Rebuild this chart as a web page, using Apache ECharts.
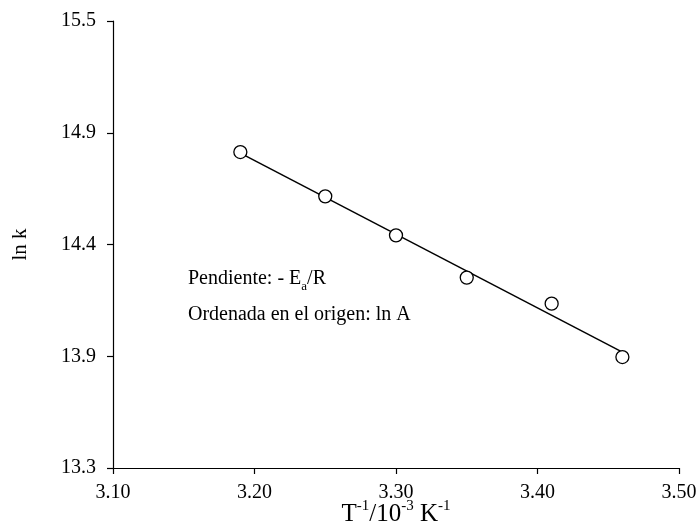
<!DOCTYPE html>
<html>
<head>
<meta charset="utf-8">
<script src="https://cdn.jsdelivr.net/npm/echarts@6/dist/echarts.min.js"></script>
<style>
html,body{margin:0;padding:0;background:#fff;}
#chart{width:699px;height:531px;}
</style>
</head>
<body>
<div id="chart"></div>
<script>
// Data
const invT = [3.19, 3.25, 3.30, 3.35, 3.41, 3.46];
const lnK = [14.855, 14.637, 14.445, 14.237, 14.109, 13.846];
const fitX = [3.19, 3.46];
const fitY = [14.85, 13.87];
const xTicks = [3.10, 3.20, 3.30, 3.40, 3.50];
const xTickLabels = ['3.10', '3.20', '3.30', '3.40', '3.50'];
const yTicks = [13.3, 13.85, 14.4, 14.95, 15.5];
const yTickLabels = ['13.3', '13.9', '14.4', '14.9', '15.5'];
const note1 = ['Pendiente: - E', 'a', '/R'];
const note2 = 'Ordenada en el origen: ln A';

const FONT = '"Liberation Serif", "Times New Roman", serif';
const chart = echarts.init(document.getElementById('chart'), null, {renderer: 'canvas'});

function pick(ticks, labels, v) {
  const i = ticks.findIndex(t => Math.abs(t - v) < 1e-6);
  return i >= 0 ? labels[i] : '';
}

const option = {
  backgroundColor: '#fff',
  animation: false,
  grid: {left: 113, right: 20, top: 21, bottom: 63, containLabel: false, outerBoundsMode: 'none'},
  xAxis: {
    type: 'value',
    min: 3.1, max: 3.5,
    name: '{m|T}{s|-1}{m|/10}{s|-3}{m| K}{s|-1}',
    nameLocation: 'middle',
    nameGap: 31,
    nameMoveOverlap: false,
    nameTextStyle: {
      rich: {
        m: {fontFamily: FONT, fontSize: 25, color: '#000', lineHeight: 28, verticalAlign: 'bottom'},
        s: {fontFamily: FONT, fontSize: 15, color: '#000', lineHeight: 15, verticalAlign: 'top'}
      }
    },
    axisLine: {lineStyle: {color: '#000', width: 1.2}},
    axisTick: {show: true, inside: false, length: 6, customValues: xTicks, lineStyle: {color: '#000', width: 1.2}},
    axisLabel: {
      customValues: xTicks,
      margin: 15,
      fontFamily: FONT, fontSize: 20, color: '#000',
      formatter: v => pick(xTicks, xTickLabels, v)
    },
    splitLine: {show: false}
  },
  yAxis: {
    type: 'value',
    min: 13.3, max: 15.5,
    name: 'ln k',
    nameLocation: 'middle',
    nameGap: 82,
    nameRotate: 90,
    nameMoveOverlap: false,
    nameTextStyle: {fontFamily: FONT, fontSize: 21, color: '#000'},
    axisLine: {show: true, lineStyle: {color: '#000', width: 1.2}},
    axisTick: {show: true, inside: false, length: 6, customValues: yTicks, lineStyle: {color: '#000', width: 1.2}},
    axisLabel: {
      customValues: yTicks,
      margin: 17,
      fontFamily: FONT, fontSize: 20, color: '#000',
      formatter: v => pick(yTicks, yTickLabels, v)
    },
    splitLine: {show: false}
  },
  graphic: [
    {
      type: 'text', left: 188, top: 269, z: 10,
      style: {
        text: '{m|' + note1[0] + '}{b|' + note1[1] + '}{m|' + note1[2] + '}',
        rich: {
          m: {fontFamily: FONT, fontSize: 20, fill: '#000', color: '#000', lineHeight: 24, verticalAlign: 'top'},
          b: {fontFamily: FONT, fontSize: 13, fill: '#000', color: '#000', lineHeight: 13, verticalAlign: 'bottom'}
        }
      }
    },
    {
      type: 'text', left: 188, top: 305, z: 10,
      style: {text: note2, font: '20px ' + FONT, fill: '#000'}
    }
  ],
  series: [
    {
      type: 'line',
      data: fitX.map((x, i) => [x, fitY[i]]),
      symbol: 'none',
      lineStyle: {color: '#000', width: 1.5},
      z: 2,
      silent: true
    },
    {
      type: 'scatter',
      data: invT.map((x, i) => [x, lnK[i]]),
      symbol: 'circle',
      symbolSize: 13,
      itemStyle: {color: '#fff', borderColor: '#000', borderWidth: 1.3, opacity: 1},
      z: 3
    }
  ]
};
chart.setOption(option);
</script>
</body>
</html>
